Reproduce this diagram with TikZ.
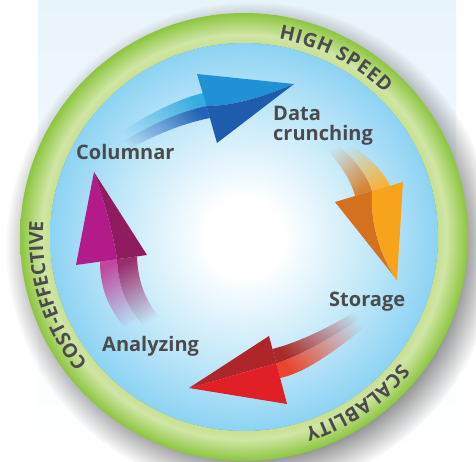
\documentclass[tikz,border=0pt]{standalone}
\usepackage{fontspec}
\setmainfont{Open Sans}
\usetikzlibrary{fadings,decorations.text}

\definecolor{txt}{HTML}{4B4B4E}
\definecolor{panel}{HTML}{E8F4FB}
\definecolor{discmid}{HTML}{C4E9F9}
\definecolor{discedge}{HTML}{8DD3F3}
\definecolor{ringin}{HTML}{C6E08F}
\definecolor{ringmid}{HTML}{D0E6A6}
\definecolor{ringout}{HTML}{8CC63F}

\definecolor{bHeadL}{HTML}{2191D5}
\definecolor{bHeadD}{HTML}{1F5CAD}
\definecolor{bShaftL}{HTML}{35ACE0}
\definecolor{bShaftD}{HTML}{2464B8}
\definecolor{oHeadD}{HTML}{D4711F}
\definecolor{oHeadL}{HTML}{F8A41A}
\definecolor{oShaftD}{HTML}{D98330}
\definecolor{oShaftL}{HTML}{F6B33E}
\definecolor{rHeadD}{HTML}{AE2629}
\definecolor{rHeadB}{HTML}{E01F26}
\definecolor{rShaftD}{HTML}{A92A27}
\definecolor{rShaftB}{HTML}{E9452D}
\definecolor{mHeadL}{HTML}{B41B8A}
\definecolor{mHeadD}{HTML}{8E1C5F}
\definecolor{mShaftL}{HTML}{C0479E}
\definecolor{mShaftD}{HTML}{9A2C6C}

\pgfdeclareradialshading{bluedisc}{\pgfpointorigin}{color(0bp)=(white); color(5bp)=(white); color(16bp)=(discmid); color(25bp)=(discedge); color(50bp)=(discedge)}
\pgfdeclareradialshading{greenring}{\pgfpointorigin}{color(0bp)=(ringin); color(21.6bp)=(ringin); color(22.6bp)=(ringmid); color(25bp)=(ringout); color(50bp)=(ringout)}

\tikzfading[name=tailfade, left color=transparent!100, right color=transparent!0]

\tikzset{
  lbl/.style={font=\fontsize{20}{20}\selectfont\bfseries, text=txt, inner sep=0pt},
  ringtext/.style={decorate, decoration={text effects along path, text={#1}, text align=center,
     text effects/.cd, text along path, fit text to path,
     characters={text=txt, font=\fontsize{19.5}{19.5}\selectfont\bfseries, inner sep=0pt}}}
}

\begin{document}
\begin{tikzpicture}[x=1pt,y=1pt]
\useasboundingbox (0,0) rectangle (476,462);
\fill[white] (0,0) rectangle (476,462);
\shade[top color=panel, bottom color=white] (38,0) rectangle (456,462);
\coordinate (c) at (244,225);

% shadow
\fill[black!70, opacity=0.62, path fading=circle with fuzzy edge 15 percent] ([shift={(7,-10)}]c) circle (245);
% ring and disc
\shade[shading=greenring, even odd rule] (c) circle (224) (c) circle (194);
\shade[shading=bluedisc] (c) circle (194);

% ring texts
\path[ringtext={HIGH SPEED}] ([shift={(80:201)}]c) arc[start angle=80, end angle=45.5, radius=201];
\path[ringtext={SCALABLITY}] ([shift={(-39:201)}]c) arc[start angle=-39, end angle=-72.5, radius=201];
\path[ringtext={COST-EFFECTIVE}] ([shift={(219:201)}]c) arc[start angle=219, end angle=175.5, radius=201];

% blue arrow
\fill[bShaftL, path fading=tailfade, fading angle=24] (115,326) .. controls (145,346) and (175,362) .. (203,369) -- (206.5,356) .. controls (178,350) and (148,336) .. (117,317) -- cycle;
\fill[bShaftD, path fading=tailfade, fading angle=24] (117,317) .. controls (148,336) and (178,350) .. (206.5,356) -- (210,344) .. controls (180,338) and (150,325) .. (120,308) -- cycle;
\fill[bHeadL] (197,388) -- (294,378) .. controls (265,366) and (235,356) .. (206.5,356) -- cycle;
\fill[bHeadD] (206.5,356) .. controls (235,356) and (265,366) .. (294,378) -- (217,319) -- cycle;

% orange arrow
\fill[oShaftD, path fading=tailfade, fading angle=-55] (322,318) .. controls (338,300) and (350,285) .. (355,266) -- (372,271) .. controls (366,290) and (352,305) .. (335,319) -- cycle;
\fill[oShaftL, path fading=tailfade, fading angle=-55] (335,319) .. controls (352,305) and (366,290) .. (372,271) -- (390,276) .. controls (383,292) and (368,305) .. (348,320) -- cycle;
\fill[oHeadD] (335,260) -- (372,271) .. controls (370,240) and (380,205) .. (397,182) -- cycle;
\fill[oHeadL] (372,271) -- (403,280) -- (397,182) .. controls (380,205) and (370,240) .. (372,271) -- cycle;

% red arrow
\fill[rShaftD, path fading=tailfade, fading angle=209] (365,157) .. controls (335,137) and (300,120) .. (272.4,113) -- (276.3,98.5) .. controls (305,108) and (340,130) .. (368,149) -- cycle;
\fill[rShaftB, path fading=tailfade, fading angle=209] (368,149) .. controls (340,130) and (305,108) .. (276.3,98.5) -- (280,84) .. controls (310,90) and (345,120) .. (372,140) -- cycle;
\fill[rHeadD] (269,126) -- (189,74) .. controls (220,82) and (250,92) .. (276.3,98.5) -- cycle;
\fill[rHeadB] (276.3,98.5) .. controls (250,92) and (220,82) .. (189,74) -- (287,58) -- cycle;

% magenta arrow
\fill[mShaftL, path fading=tailfade, fading angle=109] (125,134) .. controls (110,152) and (100,172) .. (100,200.4) -- (117,202.8) .. controls (118,174) and (128,154) .. (143,137) -- cycle;
\fill[mShaftD, path fading=tailfade, fading angle=109] (143,137) .. controls (128,154) and (118,174) .. (117,202.8) -- (137,205.6) .. controls (138,177) and (148,157) .. (162,142) -- cycle;
\fill[mHeadL] (76,197) -- (117,202.8) .. controls (113,230) and (104,262) .. (94,290) -- cycle;
\fill[mHeadD] (117,202.8) -- (147,207) -- (94,290) .. controls (104,262) and (113,230) .. (117,202.8) -- cycle;

% labels
\node[lbl, anchor=base west] (col) at (76,302) {Columnar};
\node[lbl, anchor=north west, align=left] (dat) at (273,356) {Data\\crunching};
\node[lbl, anchor=base west] (sto) at (329,155) {Storage};
\node[lbl, anchor=base west] (ana) at (102,110) {Analyzing};
\end{tikzpicture}
\end{document}
